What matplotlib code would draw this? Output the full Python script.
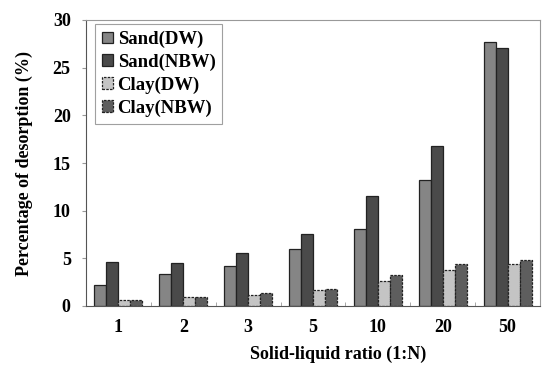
import matplotlib.pyplot as plt
import numpy as np

plt.rcParams["font.family"] = ["Liberation Serif", "DejaVu Serif"]
plt.rcParams["font.weight"] = "bold"

ratios = ["1", "2", "3", "5", "10", "20", "50"]
sand_dw = [2.2, 3.4, 4.2, 6.0, 8.1, 13.2, 27.7]
sand_nbw = [4.6, 4.5, 5.6, 7.6, 11.5, 16.8, 27.1]
clay_dw = [0.6, 0.9, 1.2, 1.7, 2.6, 3.8, 4.4]
clay_nbw = [0.6, 0.9, 1.4, 1.8, 3.3, 4.4, 4.8]

series = [
    ("Sand(DW)", sand_dw, "#858585", "solid"),
    ("Sand(NBW)", sand_nbw, "#4a4a4a", "solid"),
    ("Clay(DW)", clay_dw, "#c4c4c4", (0, (2, 1))),
    ("Clay(NBW)", clay_nbw, "#5e5e5e", (0, (2, 1))),
]

fig = plt.figure(figsize=(5.5, 3.77), dpi=100)
ax = fig.add_axes([86 / 550, 1 - 306 / 377, 454 / 550, 286 / 377])

x = np.arange(len(ratios))
w = 0.185
for i, (name, vals, col, ls) in enumerate(series):
    ax.bar(x + (i - 1.5) * w, vals, w, color=col, edgecolor="#222222",
           linewidth=0.9, linestyle=ls, label=name)

ax.set_xlim(-0.5, len(ratios) - 0.5)
ax.set_ylim(0, 30)
ax.set_yticks(range(0, 31, 5))
ax.set_xticks(x)
ax.set_xticklabels(ratios)
ax.tick_params(axis="x", length=0, pad=9, labelsize=13)
ax.tick_params(axis="y", direction="out", length=3, pad=8, labelsize=13, color="#999999")
# small boundary marks between categories
ax.set_xticks(np.arange(0.5, len(ratios) - 0.5, 1), minor=True)
ax.tick_params(axis="x", which="minor", direction="in", length=3, color="#999999")
for s in ax.spines.values():
    s.set_color("#999999")
    s.set_linewidth(0.8)
ax.spines["left"].set_color("#555555")
ax.spines["bottom"].set_color("#555555")

ax.set_xlabel("Solid-liquid ratio (1:N)", fontsize=13, fontweight="bold", labelpad=9)
ax.xaxis.set_label_coords(0.555, -0.14)
ax.set_ylabel("Percentage of desorption (%)", fontsize=13, fontweight="bold", labelpad=14)

leg = ax.legend(loc="upper left", bbox_to_anchor=(0.02, 0.985), fontsize=13.5,
                frameon=True, fancybox=False, handlelength=0.6, handleheight=0.6,
                handletextpad=0.25, borderpad=0.35, labelspacing=0.3,
                borderaxespad=0)
leg.get_frame().set_edgecolor("#888888")
leg.get_frame().set_linewidth(0.8)

fig.savefig("out.png", dpi=100)
